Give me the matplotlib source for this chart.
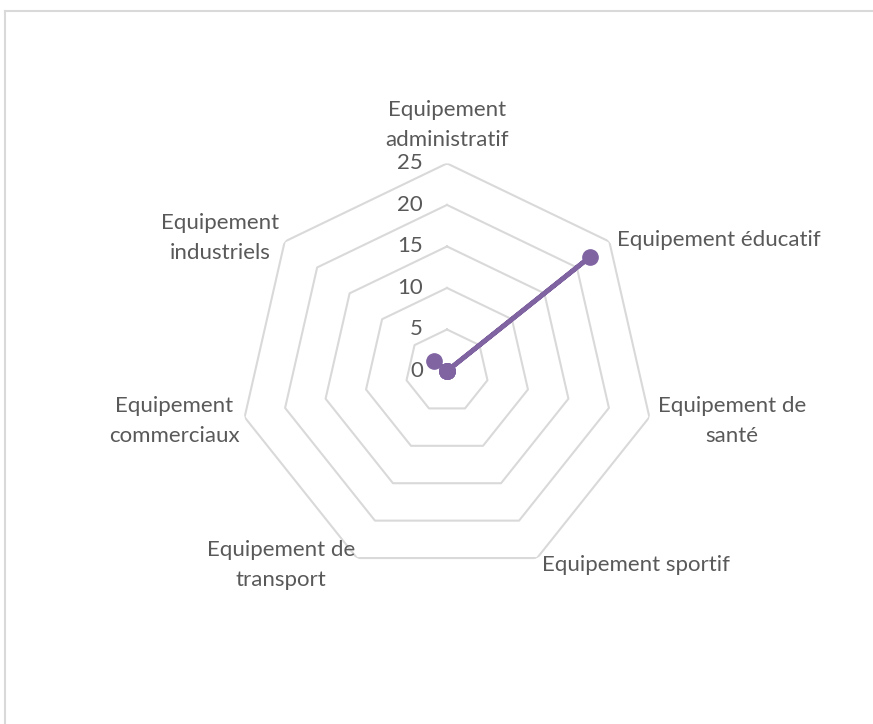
import numpy as np
import matplotlib
matplotlib.use("Agg")
import matplotlib.pyplot as plt
from matplotlib.lines import Line2D

categories = [
    "Equipement\nadministratif",
    "Equipement éducatif",
    "Equipement de\nsanté",
    "Equipement sportif",
    "Equipement de\ntransport",
    "Equipement\ncommerciaux",
    "Equipement\nindustriels",
]
values = [0, 22, 0, 0, 0, 0, 2]
ring_levels = [5, 10, 15, 20, 25]
tick_labels = ["0", "5", "10", "15", "20", "25"]

W, H = 873, 724
TEXT = "#595959"
GRID = "#D9D9D9"
LINE = "#8064A2"

plt.rcParams["font.family"] = ["Lato", "DejaVu Sans"]

fig = plt.figure(figsize=(W / 100, H / 100), dpi=100)

# chart frame (top and left edges visible)
fig.add_artist(Line2D([5 / W, 1.0], [1 - 11 / H, 1 - 11 / H], color=GRID, lw=1.5))
fig.add_artist(Line2D([5 / W, 5 / W], [0.0, 1 - 11 / H], color=GRID, lw=1.5))

cx, cy, R = 447, 371, 207.6
ax = fig.add_axes([(cx - R) / W, (H - cy - R) / H, 2 * R / W, 2 * R / H],
                  projection="polar")
ax.set_theta_offset(np.pi / 2)
ax.set_theta_direction(-1)
ax.set_ylim(0, 25)
ax.grid(False)
ax.spines["polar"].set_visible(False)
ax.set_xticks([])
ax.set_yticks([])
ax.patch.set_visible(False)

n = len(categories)
theta = np.linspace(0, 2 * np.pi, n, endpoint=False)
theta_c = np.append(theta, theta[0])

for lvl in ring_levels:
    ax.plot(theta_c, [lvl] * (n + 1), color=GRID, lw=1.5, zorder=1)

vals_c = values + [values[0]]
ax.plot(theta_c, vals_c, color=LINE, lw=3.4, marker="o", markersize=11,
        zorder=3, solid_capstyle="round")

# radial value labels along the top spoke
for t in tick_labels:
    r = float(t)
    ax.annotate(t, xy=(0, r), xytext=(-24, 0), textcoords="offset pixels",
                ha="right", va="center", fontsize=16, color=TEXT,
                annotation_clip=False)

# category labels
label_pos = [
    (447, 125, "center"),
    (617, 240, "left"),
    (732, 421, "center"),
    (636, 565, "center"),
    (281, 565, "center"),
    (174, 421, "center"),
    (220, 238, "center"),
]
for lab, (x, y, ha) in zip(categories, label_pos):
    fig.text(x / W, 1 - y / H, lab, ha=ha, va="center", fontsize=16,
             color=TEXT, multialignment="center", linespacing=1.62)

fig.savefig("out.png", dpi=100, facecolor="white")
